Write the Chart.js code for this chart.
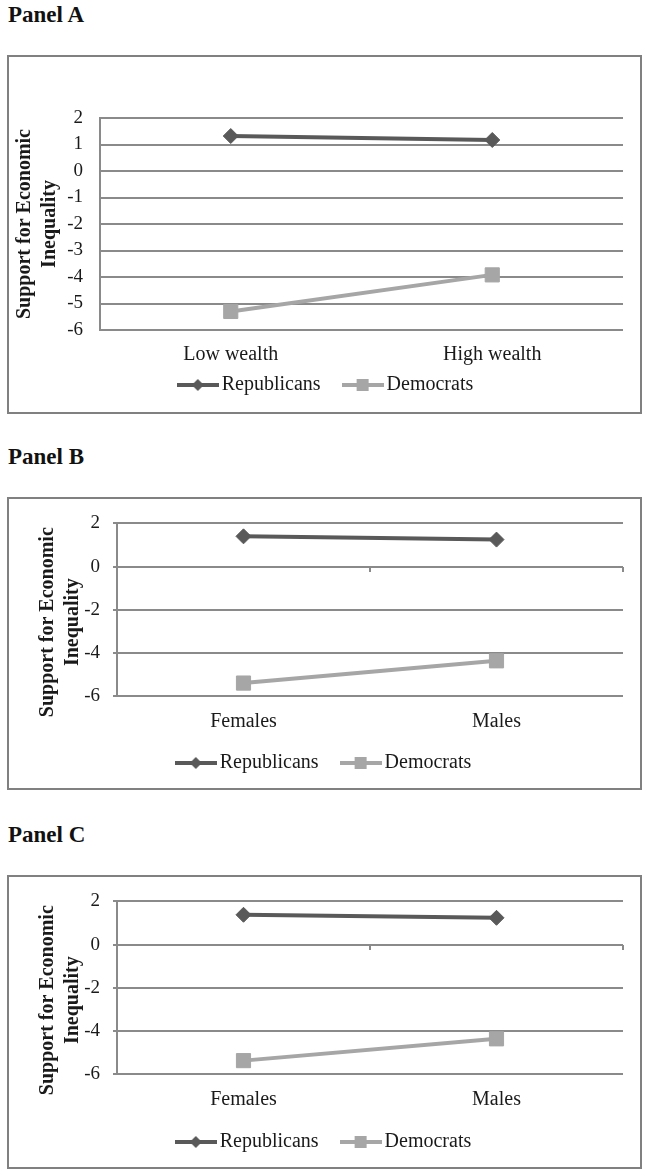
<!DOCTYPE html>
<html>
<head>
<meta charset="utf-8">
<script src="https://cdn.jsdelivr.net/npm/chart.js@4/dist/chart.umd.min.js"></script>
<style>
  body { margin: 0; background: #fff; width: 649px; height: 1176px; position: relative; overflow: hidden; }
  .ptitle { position: absolute; left: 8px; font: bold 23px 'Liberation Serif'; line-height: 23px; color: #111; }
  .box { position: absolute; left: 7px; width: 631px; border: 2px solid #808080; }
  .box canvas { display: block; }
</style>
</head>
<body>
<div class="ptitle" style="top:3px">Panel A</div>
<div class="box" style="top:55px;height:355px"><canvas id="chartA" width="631" height="355"></canvas></div>
<div class="ptitle" style="top:445px">Panel B</div>
<div class="box" style="top:497px;height:289px"><canvas id="chartB" width="631" height="289"></canvas></div>
<div class="ptitle" style="top:823px">Panel C</div>
<div class="box" style="top:875px;height:290px"><canvas id="chartC" width="631" height="290"></canvas></div>
<script>
const seriesNames = ['Republicans', 'Democrats'];
const yTitle = ['Support for Economic', 'Inequality'];

const categoriesA = ['Low wealth', 'High wealth'];
const republicansA = [1.32, 1.17];
const democratsA = [-5.3, -3.92];
const yTicksA = [-6, 2, 1];   // min, max, step

const categoriesB = ['Females', 'Males'];
const republicansB = [1.4, 1.25];
const democratsB = [-5.4, -4.37];
const yTicksB = [-6, 2, 2];

const categoriesC = ['Females', 'Males'];
const republicansC = [1.38, 1.24];
const democratsC = [-5.38, -4.37];
const yTicksC = [-6, 2, 2];

const DARK = '#595959';
const LIGHT = '#a6a6a6';
const GRID = '#8a8a8a';
const TEXT = '#1a1a1a';

Chart.defaults.font.family = "'Liberation Serif'";
Chart.defaults.color = TEXT;

// little line+marker pictures for the legend, Excel style
function legendMarker(kind, color) {
    const c = document.createElement('canvas');
    c.width = 42;
    c.height = 16;
    const g = c.getContext('2d');
    g.strokeStyle = color;
    g.lineWidth = 4;
    g.beginPath();
    g.moveTo(0, 8);
    g.lineTo(42, 8);
    g.stroke();
    g.fillStyle = color;
    g.beginPath();
    if (kind == 'diamond') {
        g.moveTo(21, 2); g.lineTo(27, 8); g.lineTo(21, 14); g.lineTo(15, 8);
    } else {
        g.rect(15, 2, 12, 12);
    }
    g.fill();
    return c;
}
const markers = [legendMarker('diamond', DARK), legendMarker('square', LIGHT)];
// extra room after the first legend entry (legend padding also sets its height)
const legendGap = ['  \u2002', ''];

function dibujarPanel(id, categorias, rep, dem, yTicks, cfg) {
    const ctx = document.getElementById(id).getContext('2d');
    const scales = {
        x: {
            type: 'category',
            offset: true,
            grid: { display: false, drawTicks: false },
            border: { display: false },
            ticks: { font: { size: 20 }, padding: cfg.xPad, color: TEXT },
            afterFit: s => { s.height = cfg.xHeight; }
        },
        y: {
            min: yTicks[0],
            max: yTicks[1],
            ticks: { stepSize: yTicks[2], font: { size: 19 }, padding: cfg.yPad, color: TEXT },
            grid: { color: GRID, lineWidth: 2, drawTicks: cfg.yTicks, tickLength: 4 },
            border: { display: true, color: GRID, width: 2 },
            title: {
                display: true,
                text: cfg.titleText,
                font: { size: 20, weight: 'bold', lineHeight: 1.25 },
                color: TEXT,
                padding: { top: cfg.titlePad, bottom: 0 }
            },
            afterFit: s => { s.width = cfg.yWidth; }
        }
    };
    if (cfg.zeroAxis) {
        // horizontal axis crossing at 0 with its tick marks
        scales.x2 = {
            type: 'category',
            position: { y: 0 },
            offset: true,
            grid: { display: true, drawOnChartArea: false, drawTicks: true, tickLength: 5, color: GRID, lineWidth: 2, offset: true },
            border: { display: false },
            ticks: { display: false }
        };
    }
    new Chart(ctx, {
        type: 'line',
        data: {
            labels: categorias,
            datasets: [{
                label: seriesNames[0],
                data: rep,
                borderColor: DARK,
                backgroundColor: DARK,
                borderWidth: 4,
                pointStyle: 'rectRot',
                pointRadius: 7.5,
                pointBorderWidth: 1,
                pointBackgroundColor: DARK,
                pointBorderColor: DARK
            },
            {
                label: seriesNames[1],
                data: dem,
                borderColor: LIGHT,
                backgroundColor: LIGHT,
                borderWidth: 4,
                pointStyle: 'rect',
                pointRadius: 10,
                pointBorderWidth: 1,
                pointBackgroundColor: LIGHT,
                pointBorderColor: LIGHT
            }]
        },
        options: {
            responsive: false,
            animation: false,
            layout: { padding: cfg.padding },
            plugins: {
                tooltip: { enabled: false },
                legend: {
                    position: 'bottom',
                    labels: {
                        usePointStyle: true,
                        pointStyleWidth: 28,
                        boxHeight: 16,
                        padding: 8,
                        font: { size: 20 },
                        color: TEXT,
                        generateLabels: chart => chart.data.datasets.map((ds, i) => ({
                            text: ds.label + legendGap[i],
                            pointStyle: markers[i],
                            fillStyle: ds.borderColor,
                            strokeStyle: ds.borderColor,
                            lineWidth: 0,
                            hidden: false,
                            datasetIndex: i,
                            fontColor: TEXT
                        }))
                    }
                }
            },
            scales: scales
        }
    });
}

dibujarPanel('chartA', categoriesA, republicansA, democratsA, yTicksA, {
    padding: { left: 25, right: 17, top: 61, bottom: 7 },
    yWidth: 66, xHeight: 37, xPad: 13, yPad: 17, yTicks: false,
    titlePad: -21.5, titleText: yTitle, zeroAxis: false
});
// trailing spaces push the rotated title a bit lower, as in the original
const yTitleBC = yTitle.map(t => t + '     ');
dibujarPanel('chartB', categoriesB, republicansB, democratsB, yTicksB, {
    padding: { left: 21, right: 17, top: 20, bottom: 5 },
    yWidth: 87, xHeight: 49, xPad: 14, yPad: 13, yTicks: true,
    titlePad: 5.5, titleText: yTitleBC, zeroAxis: true
});
dibujarPanel('chartC', categoriesC, republicansC, democratsC, yTicksC, {
    padding: { left: 21, right: 17, top: 20, bottom: 5 },
    yWidth: 87, xHeight: 50, xPad: 14, yPad: 13, yTicks: true,
    titlePad: 5.5, titleText: yTitleBC, zeroAxis: true
});
</script>
</body>
</html>
